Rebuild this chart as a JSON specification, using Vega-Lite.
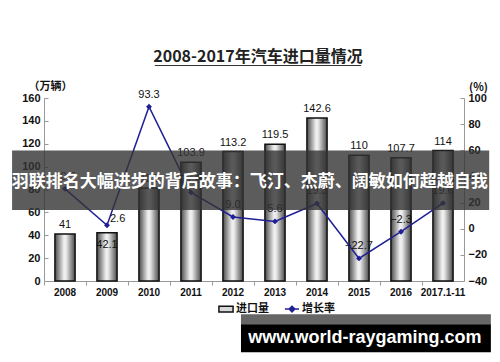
{
  "$schema": "https://vega.github.io/schema/vega-lite/v6.json",
  "width": 420,
  "height": 183,
  "autosize": {"type": "none"},
  "padding": {"left": 44, "top": 98, "right": 36, "bottom": 81},
  "background": "white",
  "config": {"view": {"stroke": null}, "font": "Noto Sans CJK SC"},
  "title": {"text": "2008-2017年汽车进口量情况", "fontSize": 16, "fontWeight": "bold", "font": "Noto Sans CJK SC", "color": "#222", "anchor": "middle", "frame": "group", "offset": 0, "dx": 4},
  "data": {"values": [
    {"year": "2008", "volume": 41, "growth": 30.5},
    {"year": "2009", "volume": 42.1, "growth": 2.6},
    {"year": "2010", "volume": 81.3, "growth": 93.3},
    {"year": "2011", "volume": 103.9, "growth": 27.8},
    {"year": "2012", "volume": 113.2, "growth": 9.0},
    {"year": "2013", "volume": 119.5, "growth": 5.6},
    {"year": "2014", "volume": 142.6, "growth": 19.3},
    {"year": "2015", "volume": 110, "growth": -22.7},
    {"year": "2016", "volume": 107.7, "growth": -2.3},
    {"year": "2017.1-11", "volume": 114, "growth": 19.6}
  ]},
  "layer": [
    {
      "encoding": {
        "x": {"field": "year", "type": "nominal", "sort": null, "scale": {"paddingInner": 0, "paddingOuter": 0},
          "axis": {"title": null, "labelAngle": 0, "labelFont": "Liberation Sans", "labelFontWeight": "bold", "labelFontSize": 10, "labelColor": "#111", "domainColor": "#999", "tickColor": "#999", "tickSize": 4, "bandPosition": 0, "labelPadding": 2}},
        "y": {"field": "volume", "type": "quantitative", "scale": {"domain": [0, 160], "nice": false},
          "axis": {"title": "（万辆）", "titleAngle": 0, "titleX": 6, "titleY": -12, "titleAlign": "center", "titleBaseline": "middle", "titleFontSize": 11, "titleFont": "Noto Sans CJK SC", "titleFontWeight": "bold", "titleColor": "#111",
            "values": [0, 20, 40, 60, 80, 100, 120, 140, 160], "grid": false, "labelFont": "Liberation Sans", "labelFontWeight": "bold", "labelFontSize": 11, "labelColor": "#111", "domainColor": "#999", "tickColor": "#999", "tickSize": -4, "labelPadding": 8}}
      },
      "layer": [
        {"mark": {"type": "bar", "width": {"band": 0.48}, "stroke": "#111", "strokeWidth": 1.5,
          "fill": {"gradient": "linear", "x1": 0, "y1": 0, "x2": 1, "y2": 0, "stops": [
            {"offset": 0, "color": "#4a4a4a"}, {"offset": 0.45, "color": "#f0f0f0"}, {"offset": 0.55, "color": "#ececec"}, {"offset": 1, "color": "#4a4a4a"}]}}},
        {"transform": [{"filter": "datum.year !== '2009'"}],
          "mark": {"type": "text", "dy": -6, "baseline": "alphabetic", "fontSize": 11, "font": "Liberation Sans", "color": "#111"},
          "encoding": {"text": {"field": "volume", "type": "quantitative"}}},
        {"transform": [{"filter": "datum.year === '2009'"}],
          "mark": {"type": "text", "dy": 15, "baseline": "alphabetic", "fontSize": 11, "font": "Liberation Sans", "color": "#111"},
          "encoding": {"text": {"field": "volume", "type": "quantitative"}}}
      ]
    },
    {
      "encoding": {
        "x": {"field": "year", "type": "nominal", "sort": null, "scale": {"paddingInner": 0, "paddingOuter": 0}, "axis": null},
        "y": {"field": "growth", "type": "quantitative", "scale": {"domain": [-40, 100], "nice": false, "zero": false},
          "axis": {"orient": "right", "title": "(%)", "titleAngle": 0, "titleX": 14, "titleY": -11, "titleAlign": "center", "titleBaseline": "middle", "titleFontSize": 11, "titleFont": "Noto Sans CJK SC", "titleFontWeight": "bold", "titleColor": "#111",
            "values": [-40, -20, 0, 20, 40, 60, 80, 100], "grid": false, "labelFont": "Liberation Sans", "labelFontWeight": "bold", "labelFontSize": 11, "labelColor": "#111", "domainColor": "#999", "tickColor": "#999", "tickSize": -4, "labelPadding": 8}}
      },
      "layer": [
        {"mark": {"type": "line", "color": "#1f1f96", "strokeWidth": 1.5}, "encoding": {}},
        {"mark": {"type": "point", "shape": "diamond", "filled": true, "color": "#1f1f96", "size": 35, "opacity": 1}},
        {"transform": [{"filter": "datum.year !== '2009'"}],
          "mark": {"type": "text", "dy": -9, "baseline": "alphabetic", "fontSize": 11, "font": "Liberation Sans", "color": "#111"},
          "encoding": {"text": {"field": "growth", "type": "quantitative", "format": ".1f"}}},
        {"transform": [{"filter": "datum.year === '2009'"}],
          "mark": {"type": "text", "dx": 3, "dy": -3, "align": "left", "baseline": "alphabetic", "fontSize": 11, "font": "Liberation Sans", "color": "#111"},
          "encoding": {"text": {"field": "growth", "type": "quantitative", "format": ".1f"}}}
      ]
    },
    {
      "data": {"values": [{"k": 1}]},
      "layer": [
        {"mark": {"type": "rect", "fill": "#333", "opacity": 0.8},
          "encoding": {
            "x": {"datum": -0.076, "type": "quantitative", "scale": {"domain": [0, 1], "nice": false, "zero": false}, "axis": null},
            "x2": {"datum": 1.06},
            "y": {"datum": 114.2, "type": "quantitative", "scale": {"domain": [0, 160], "nice": false}, "axis": null},
            "y2": {"datum": 62}}},
        {"mark": {"type": "text", "text": "羽联排名大幅进步的背后故事：飞汀、杰蔚、阔敏如何超越自我", "color": "white", "fontSize": 17, "fontWeight": "bold", "font": "Noto Sans CJK SC", "baseline": "middle", "align": "center"},
          "encoding": {
            "x": {"datum": 0.49, "type": "quantitative"},
            "y": {"datum": 86.2, "type": "quantitative"}}},
        {"mark": {"type": "rect", "fill": "#666"},
          "encoding": {
            "x": {"datum": 0.469, "type": "quantitative"},
            "x2": {"datum": 1.064},
            "y": {"datum": -29.1, "type": "quantitative"},
            "y2": {"datum": -37.8}}},
        {"mark": {"type": "rect", "fill": "#000"},
          "encoding": {
            "x": {"datum": 0.469, "type": "quantitative"},
            "x2": {"datum": 1.064},
            "y": {"datum": -37.8, "type": "quantitative"},
            "y2": {"datum": -62.3}}},
        {"mark": {"type": "text", "text": "www.world-raygaming.com", "color": "white", "fontSize": 18, "fontWeight": "bold", "font": "Liberation Sans", "baseline": "middle", "align": "center"},
          "encoding": {
            "x": {"datum": 0.764, "type": "quantitative"},
            "y": {"datum": -49.6, "type": "quantitative"}}},
        {"mark": {"type": "rule", "color": "#333", "strokeWidth": 1},
          "encoding": {
            "x": {"datum": 0.264, "type": "quantitative"},
            "x2": {"datum": 0.755},
            "y": {"datum": 188.4, "type": "quantitative"}}}
      ]
    },
    {
      "data": {"values": [{"series": "进口量"}, {"series": "增长率"}]},
      "mark": {"type": "point", "opacity": 0, "strokeWidth": 1.5},
      "encoding": {
        "shape": {"field": "series", "type": "nominal", "scale": {"domain": ["进口量", "增长率"], "range": ["M-1,-0.4H1V0.4H-1Z", "M-1,0H1M0,-0.4L0.4,0L0,0.4L-0.4,0Z"]},
          "legend": {"orient": "none", "legendX": 174, "legendY": 203, "direction": "horizontal", "title": null, "symbolSize": 200, "symbolOpacity": 1, "symbolStrokeWidth": 1.5, "labelFont": "Noto Sans CJK SC", "labelFontSize": 11, "labelFontWeight": "bold", "labelColor": "#111", "columnPadding": 12, "labelOffset": 2}},
        "fill": {"field": "series", "type": "nominal", "scale": {"domain": ["进口量", "增长率"], "range": ["#d8d8d8", "#1f1f96"]}},
        "stroke": {"field": "series", "type": "nominal", "scale": {"domain": ["进口量", "增长率"], "range": ["#111", "#1f1f96"]}}
      }
    }
  ],
  "resolve": {"scale": {"x": "independent", "y": "independent"}}
}
